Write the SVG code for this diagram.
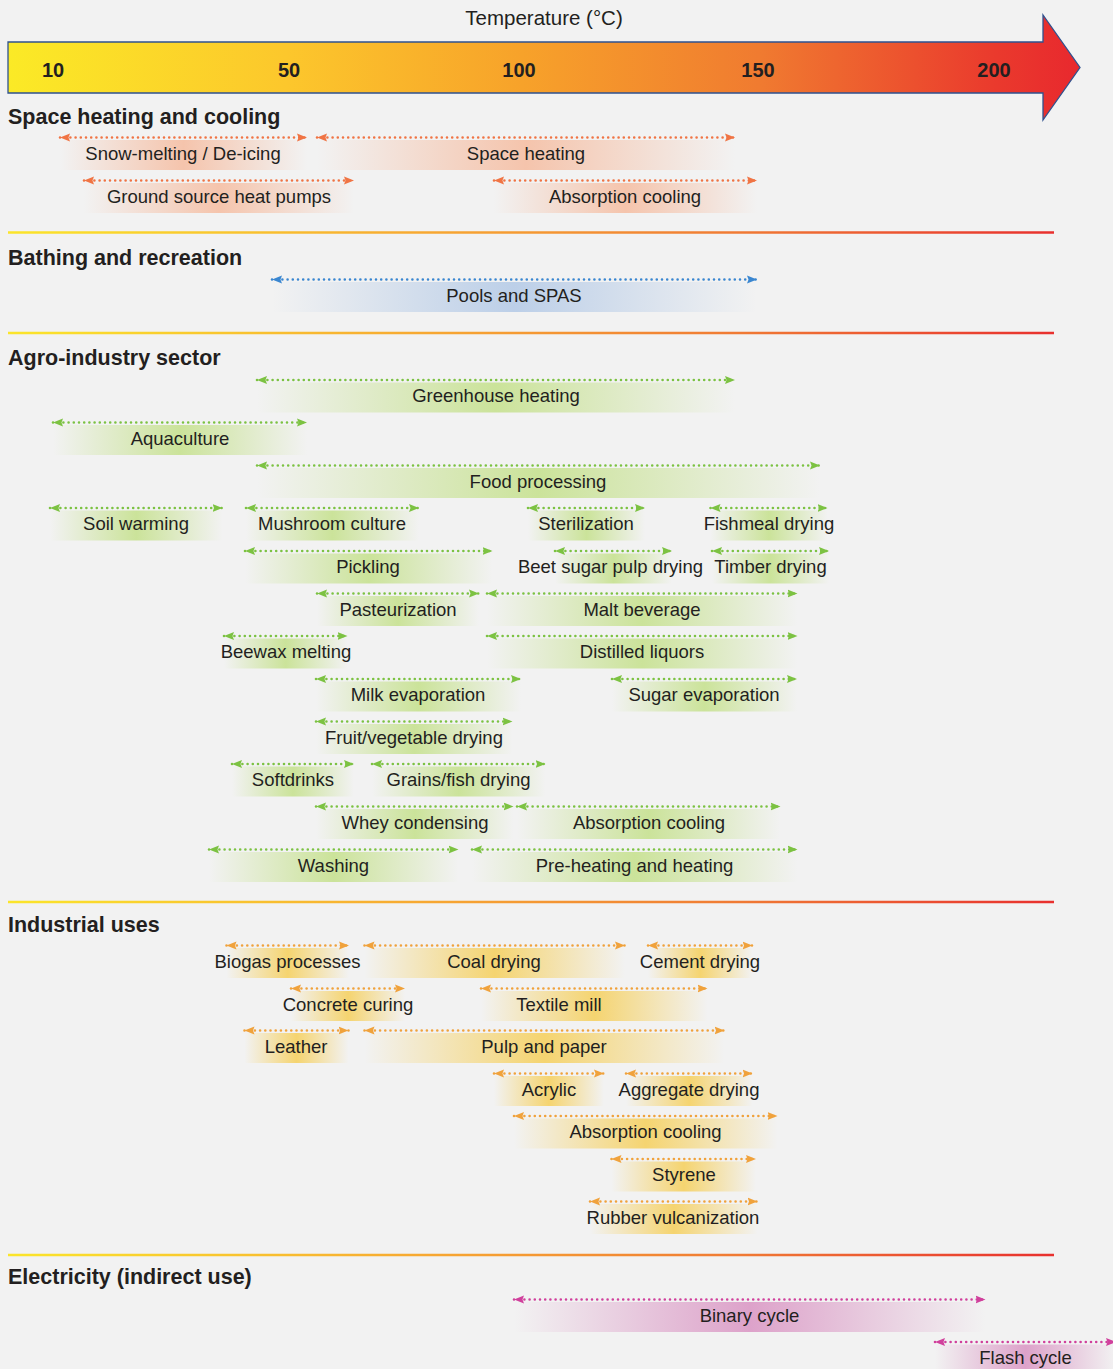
<svg xmlns="http://www.w3.org/2000/svg" width="1113" height="1369" viewBox="0 0 1113 1369">
<defs>
<style>
text{font-family:"Liberation Sans",Arial,Helvetica,sans-serif;fill:#231f20}
.lbl{font-size:18.5px;text-anchor:middle}
.hd{font-size:21.5px;font-weight:bold}
.tick{font-size:20px;font-weight:bold;text-anchor:middle}
.dl{stroke-width:2.6;stroke-dasharray:0 5.2;stroke-linecap:round;fill:none}
.o .dl{stroke:#f07444;marker-start:url(#mo);marker-end:url(#mo)}
.b .dl{stroke:#3a86d0;marker-start:url(#mb);marker-end:url(#mb)}
.g .dl{stroke:#7cc242;marker-start:url(#mg);marker-end:url(#mg)}
.y .dl{stroke:#f0a23c;marker-start:url(#my);marker-end:url(#my)}
.m .dl{stroke:#d0409c;marker-start:url(#mm);marker-end:url(#mm)}
.o rect{fill:url(#go)}
.b rect{fill:url(#gb)}
.g rect{fill:url(#gg)}
.y rect{fill:url(#gy)}
.m rect{fill:url(#gm)}
.lbls text{transform:translate(0,-1px)}
.sep{stroke:url(#gsep);stroke-width:2.5}
</style>
<marker id="mo" markerUnits="userSpaceOnUse" markerWidth="10" markerHeight="9" refX="10" refY="4.5" orient="auto-start-reverse"><path d="M0,0.5 L10,4.5 L0,8.5 L1.5,4.5 Z" fill="#f07444"/></marker>
<marker id="mb" markerUnits="userSpaceOnUse" markerWidth="10" markerHeight="9" refX="10" refY="4.5" orient="auto-start-reverse"><path d="M0,0.5 L10,4.5 L0,8.5 L1.5,4.5 Z" fill="#3a86d0"/></marker>
<marker id="mg" markerUnits="userSpaceOnUse" markerWidth="10" markerHeight="9" refX="10" refY="4.5" orient="auto-start-reverse"><path d="M0,0.5 L10,4.5 L0,8.5 L1.5,4.5 Z" fill="#7cc242"/></marker>
<marker id="my" markerUnits="userSpaceOnUse" markerWidth="10" markerHeight="9" refX="10" refY="4.5" orient="auto-start-reverse"><path d="M0,0.5 L10,4.5 L0,8.5 L1.5,4.5 Z" fill="#f0a23c"/></marker>
<marker id="mm" markerUnits="userSpaceOnUse" markerWidth="10" markerHeight="9" refX="10" refY="4.5" orient="auto-start-reverse"><path d="M0,0.5 L10,4.5 L0,8.5 L1.5,4.5 Z" fill="#d0409c"/></marker>
<linearGradient id="go"><stop offset="0" stop-color="#f5c4ac" stop-opacity="0"/><stop offset="0.3" stop-color="#f5c4ac" stop-opacity="0.6"/><stop offset="0.5" stop-color="#f5c4ac"/><stop offset="0.7" stop-color="#f5c4ac" stop-opacity="0.6"/><stop offset="1" stop-color="#f5c4ac" stop-opacity="0"/></linearGradient>
<linearGradient id="gb"><stop offset="0" stop-color="#bccfe8" stop-opacity="0"/><stop offset="0.3" stop-color="#bccfe8" stop-opacity="0.6"/><stop offset="0.5" stop-color="#bccfe8"/><stop offset="0.7" stop-color="#bccfe8" stop-opacity="0.6"/><stop offset="1" stop-color="#bccfe8" stop-opacity="0"/></linearGradient>
<linearGradient id="gg"><stop offset="0" stop-color="#cbe39a" stop-opacity="0"/><stop offset="0.3" stop-color="#cbe39a" stop-opacity="0.6"/><stop offset="0.5" stop-color="#cbe39a"/><stop offset="0.7" stop-color="#cbe39a" stop-opacity="0.6"/><stop offset="1" stop-color="#cbe39a" stop-opacity="0"/></linearGradient>
<linearGradient id="gy"><stop offset="0" stop-color="#f5d470" stop-opacity="0"/><stop offset="0.3" stop-color="#f5d470" stop-opacity="0.6"/><stop offset="0.5" stop-color="#f5d470"/><stop offset="0.7" stop-color="#f5d470" stop-opacity="0.6"/><stop offset="1" stop-color="#f5d470" stop-opacity="0"/></linearGradient>
<linearGradient id="gm"><stop offset="0" stop-color="#dda2ca" stop-opacity="0"/><stop offset="0.3" stop-color="#dda2ca" stop-opacity="0.6"/><stop offset="0.5" stop-color="#dda2ca"/><stop offset="0.7" stop-color="#dda2ca" stop-opacity="0.6"/><stop offset="1" stop-color="#dda2ca" stop-opacity="0"/></linearGradient>
<linearGradient id="garrow" gradientUnits="userSpaceOnUse" x1="8" y1="0" x2="1080" y2="0">
<stop offset="0" stop-color="#fbea26"/><stop offset="0.26" stop-color="#fcc72c"/><stop offset="0.48" stop-color="#f7a22a"/><stop offset="0.7" stop-color="#f07b30"/><stop offset="0.92" stop-color="#ea3a2d"/><stop offset="1" stop-color="#e8282e"/>
</linearGradient>
<linearGradient id="gsep" gradientUnits="userSpaceOnUse" x1="8" y1="0" x2="1054" y2="0">
<stop offset="0" stop-color="#fbe52a"/><stop offset="0.4" stop-color="#f7a832"/><stop offset="0.7" stop-color="#f07a34"/><stop offset="1" stop-color="#e8302e"/>
</linearGradient>
</defs>
<rect x="0" y="0" width="1113" height="1369" fill="#f2f2f2"/>

<g id="axis">
<text x="544" y="25" font-size="20.5" text-anchor="middle">Temperature (°C)</text>
<path d="M8,42 H1043 V15 L1080,67.5 L1043,120 V93 H8 Z" fill="url(#garrow)" stroke="#2f528f" stroke-width="1.3"/>
<text class="tick" x="53" y="77">10</text>
<text class="tick" x="289" y="77">50</text>
<text class="tick" x="519" y="77">100</text>
<text class="tick" x="758" y="77">150</text>
<text class="tick" x="994" y="77">200</text>
</g>

<g id="separators">
<line class="sep" x1="8" y1="232.5" x2="1054" y2="232.5"/>
<line class="sep" x1="8" y1="333" x2="1054" y2="333"/>
<line class="sep" x1="8" y1="902" x2="1054" y2="902"/>
<line class="sep" x1="8" y1="1255" x2="1054" y2="1255"/>
</g>

<g id="headings">
<text class="hd" x="8" y="124">Space heating and cooling</text>
<text class="hd" x="8" y="265">Bathing and recreation</text>
<text class="hd" x="8" y="365">Agro-industry sector</text>
<text class="hd" x="8" y="932">Industrial uses</text>
<text class="hd" x="8" y="1284">Electricity (indirect use)</text>
</g>

<g class="lbls">
<g id="space" class="o">
<g id="snow"><rect x="60" y="140" width="247" height="30"/><path class="dl" d="M60,137.5 H307"/><text class="lbl" x="183" y="160.5">Snow-melting / De-icing</text></g>
<g id="spaceheating"><rect x="317" y="140" width="418" height="30"/><path class="dl" d="M317,137.5 H735"/><text class="lbl" x="526" y="160.5">Space heating</text></g>
<g id="gshp"><rect x="84" y="183" width="270" height="30"/><path class="dl" d="M84,180.5 H354"/><text class="lbl" x="219" y="203.5">Ground source heat pumps</text></g>
<g id="abscool1"><rect x="494" y="183" width="263" height="30"/><path class="dl" d="M494,180.5 H757"/><text class="lbl" x="625" y="203.5">Absorption cooling</text></g>
</g>

<g id="bathing" class="b">
<g id="pools"><rect x="272" y="282" width="485" height="30"/><path class="dl" d="M272,279.5 H757"/><text class="lbl" x="514" y="302.5">Pools and SPAS</text></g>
</g>

<g id="agro" class="g">
<g id="greenhouse"><rect x="257" y="382.5" width="478" height="30"/><path class="dl" d="M257,380 H735"/><text class="lbl" x="496" y="403">Greenhouse heating</text></g>
<g id="aquaculture"><rect x="53" y="425" width="254" height="30"/><path class="dl" d="M53,422.5 H307"/><text class="lbl" x="180" y="445.5">Aquaculture</text></g>
<g id="food"><rect x="257" y="468" width="563" height="30"/><path class="dl" d="M257,465.5 H820"/><text class="lbl" x="538" y="488.5">Food processing</text></g>
<g id="soil"><rect x="50" y="510.5" width="172.5" height="30"/><path class="dl" d="M50,508 H222.5"/><text class="lbl" x="136" y="531">Soil warming</text></g>
<g id="mushroom"><rect x="246" y="510.5" width="173" height="30"/><path class="dl" d="M246,508 H419"/><text class="lbl" x="332" y="531">Mushroom culture</text></g>
<g id="sterilization"><rect x="528" y="510.5" width="117" height="30"/><path class="dl" d="M528,508 H645"/><text class="lbl" x="586" y="531">Sterilization</text></g>
<g id="fishmeal"><rect x="710.5" y="510.5" width="117" height="30"/><path class="dl" d="M710.5,508 H827.5"/><text class="lbl" x="769" y="531">Fishmeal drying</text></g>
<g id="pickling"><rect x="245" y="553.5" width="247.5" height="30"/><path class="dl" d="M245,551 H492.5"/><text class="lbl" x="368" y="574">Pickling</text></g>
<g id="beet"><rect x="555" y="553.5" width="117" height="30"/><path class="dl" d="M555,551 H672"/><text class="lbl" x="610.5" y="574">Beet sugar pulp drying</text></g>
<g id="timber"><rect x="712" y="553.5" width="117" height="30"/><path class="dl" d="M712,551 H829"/><text class="lbl" x="770.5" y="574">Timber drying</text></g>
<g id="pasteurization"><rect x="317" y="596" width="162" height="30"/><path class="dl" d="M317,593.5 H479"/><text class="lbl" x="398" y="616.5">Pasteurization</text></g>
<g id="malt"><rect x="487" y="596" width="310.5" height="30"/><path class="dl" d="M487,593.5 H797.5"/><text class="lbl" x="642" y="616.5">Malt beverage</text></g>
<g id="beewax"><rect x="224" y="638.5" width="123.5" height="30"/><path class="dl" d="M224,636 H347.5"/><text class="lbl" x="286" y="659">Beewax melting</text></g>
<g id="distilled"><rect x="487" y="638.5" width="310.5" height="30"/><path class="dl" d="M487,636 H797.5"/><text class="lbl" x="642" y="659">Distilled liquors</text></g>
<g id="milk"><rect x="316" y="681.5" width="205" height="30"/><path class="dl" d="M316,679 H521"/><text class="lbl" x="418" y="702">Milk evaporation</text></g>
<g id="sugar"><rect x="612" y="681.5" width="185" height="30"/><path class="dl" d="M612,679 H797"/><text class="lbl" x="704" y="702">Sugar evaporation</text></g>
<g id="fruit"><rect x="316" y="724" width="196.5" height="30"/><path class="dl" d="M316,721.5 H512.5"/><text class="lbl" x="414" y="744.5">Fruit/vegetable drying</text></g>
<g id="softdrinks"><rect x="232" y="766.5" width="122" height="30"/><path class="dl" d="M232,764 H354"/><text class="lbl" x="293" y="787">Softdrinks</text></g>
<g id="grains"><rect x="372" y="766.5" width="173.5" height="30"/><path class="dl" d="M372,764 H545.5"/><text class="lbl" x="458.5" y="787">Grains/fish drying</text></g>
<g id="whey"><rect x="316" y="809" width="197.5" height="30"/><path class="dl" d="M316,806.5 H513.5"/><text class="lbl" x="415" y="829.5">Whey condensing</text></g>
<g id="abscool2"><rect x="517" y="809" width="263.5" height="30"/><path class="dl" d="M517,806.5 H780.5"/><text class="lbl" x="649" y="829.5">Absorption cooling</text></g>
<g id="washing"><rect x="209" y="852" width="249.5" height="30"/><path class="dl" d="M209,849.5 H458.5"/><text class="lbl" x="333.5" y="872.5">Washing</text></g>
<g id="preheating"><rect x="472" y="852" width="325.5" height="30"/><path class="dl" d="M472,849.5 H797.5"/><text class="lbl" x="634.5" y="872.5">Pre-heating and heating</text></g>
</g>

<g id="industrial" class="y">
<g id="biogas"><rect x="226.5" y="948" width="122.5" height="30"/><path class="dl" d="M226.5,945.5 H349"/><text class="lbl" x="287.5" y="968.5">Biogas processes</text></g>
<g id="coal"><rect x="364.5" y="948" width="260.5" height="30"/><path class="dl" d="M364.5,945.5 H625"/><text class="lbl" x="494" y="968.5">Coal drying</text></g>
<g id="cement"><rect x="648" y="948" width="104.5" height="30"/><path class="dl" d="M648,945.5 H752.5"/><text class="lbl" x="700" y="968.5">Cement drying</text></g>
<g id="concrete"><rect x="291" y="991" width="114" height="30"/><path class="dl" d="M291,988.5 H405"/><text class="lbl" x="348" y="1011.5">Concrete curing</text></g>
<g id="textile"><rect x="481" y="991" width="226.5" height="30"/><path class="dl" d="M481,988.5 H707.5"/><text class="lbl" x="559" y="1011.5">Textile mill</text></g>
<g id="leather"><rect x="244.5" y="1033" width="104" height="30"/><path class="dl" d="M244.5,1030.5 H348.5"/><text class="lbl" x="296" y="1053.5">Leather</text></g>
<g id="pulp"><rect x="364.5" y="1033" width="360" height="30"/><path class="dl" d="M364.5,1030.5 H724.5"/><text class="lbl" x="544" y="1053.5">Pulp and paper</text></g>
<g id="acrylic"><rect x="494" y="1076" width="110" height="30"/><path class="dl" d="M494,1073.5 H604"/><text class="lbl" x="549" y="1096.5">Acrylic</text></g>
<g id="aggregate"><rect x="626" y="1076" width="126.5" height="30"/><path class="dl" d="M626,1073.5 H752.5"/><text class="lbl" x="689" y="1096.5">Aggregate drying</text></g>
<g id="abscool3"><rect x="514" y="1118.5" width="263.5" height="30"/><path class="dl" d="M514,1116 H777.5"/><text class="lbl" x="645.5" y="1139">Absorption cooling</text></g>
<g id="styrene"><rect x="611.5" y="1161.5" width="144.5" height="30"/><path class="dl" d="M611.5,1159 H756"/><text class="lbl" x="684" y="1182">Styrene</text></g>
<g id="rubber"><rect x="590" y="1204" width="167.5" height="30"/><path class="dl" d="M590,1201.5 H757.5"/><text class="lbl" x="673" y="1224.5">Rubber vulcanization</text></g>
</g>

<g id="electricity" class="m">
<g id="binary"><rect x="514" y="1302" width="471.5" height="30"/><path class="dl" d="M514,1299.5 H985.5"/><text class="lbl" x="749.5" y="1322.5">Binary cycle</text></g>
<g id="flash"><rect x="935" y="1344.5" width="181" height="30"/><path class="dl" d="M935,1342 H1116"/><text class="lbl" x="1025.5" y="1365">Flash cycle</text></g>
</g>
</g>
</svg>
